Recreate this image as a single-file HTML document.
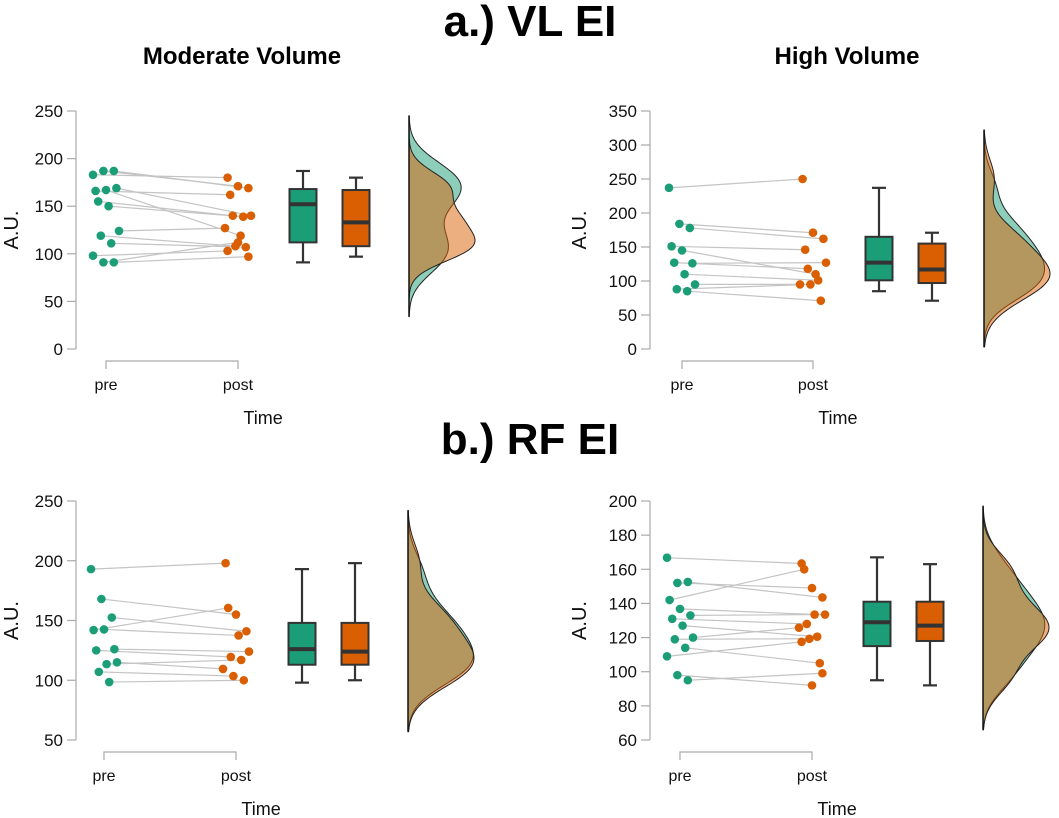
<!DOCTYPE html>
<html><head><meta charset="utf-8"><style>
body{margin:0;background:#fff;}
svg{display:block;font-family:"Liberation Sans",Arial,sans-serif;}
</style></head><body>
<svg id="fig" width="1059" height="818" viewBox="0 0 1059 818">
<text x="530" y="36" text-anchor="middle" font-size="44" font-weight="bold">a.) VL EI</text>
<text x="242" y="64" text-anchor="middle" font-size="24" font-weight="bold">Moderate Volume</text>
<text x="847" y="64" text-anchor="middle" font-size="24" font-weight="bold">High Volume</text>
<text x="530" y="454" text-anchor="middle" font-size="44" font-weight="bold">b.) RF EI</text>
</svg>
<script>
// Panel A: VL EI moderate volume
const preA=[183,187,187,166,167,169,155,150,124,119,111,98,91,91];
const postA=[180,171,169,162,119,140,140,139,127,108,107,103,112,97];
const boxPreA=[91,112,152,168,187];
const boxPostA=[97,108,133,167,180];
const ticksA=[0,50,100,150,200,250];
// Panel B: VL EI high volume
const preB=[237,184,178,151,145,126,127,110,95,88,85];
const postB=[250,171,162,146,110,127,118,101,95,95,71];
const boxPreB=[85,101,127,165,237];
const boxPostB=[71,97,117,155,171];
const ticksB=[0,50,100,150,200,250,300,350];
// Panel C: RF EI moderate volume
const preC=[193,168,152.5,142,142.5,126,125,113.5,115,107,98.5];
const postC=[198,155,141,160.5,137.5,124,119.5,117,109.5,103.5,100];
const boxPreC=[98,113,126,148,193];
const boxPostC=[100,113,124,148,198];
const ticksC=[50,100,150,200,250];
// Panel D: RF EI high volume
const preD=[166.8,152,152.6,142,136.8,133,131,127,120,119,114,109,98,95];
const postD=[163.4,149,143.5,160,133.5,133.5,128,120.5,125.8,119.3,105,117.5,92,99.1];
const boxPreD=[95,115,129,141,167];
const boxPostD=[92,118,127,141,163];
const ticksD=[60,80,100,120,140,160,180,200];

const NS="http://www.w3.org/2000/svg";
const svg=document.getElementById('fig');
const GREEN="#1b9e77",ORANGE="#d95f02";
function el(tag,attrs,parent){const e=document.createElementNS(NS,tag);for(const k in attrs)e.setAttribute(k,attrs[k]);(parent||svg).appendChild(e);return e;}
function jit(i,n){return ((i*37)%11-5)*2.6;}

function panel(cfg,pre,post,bpre,bpost,ticks,key){
  const g=el('g',{});
  
  
  const y=v=>cfg.y0-(v-cfg.vmin)/(cfg.vmax-cfg.vmin)*(cfg.y0-cfg.y1);
  const ax=el('line',{x1:cfg.ax,x2:cfg.ax,y1:y(ticks[0]),y2:y(ticks[ticks.length-1]),stroke:'#aaa','stroke-width':1.2},g);
  
  
  ticks.forEach(t=>{
    el('line',{x1:cfg.ax-9,x2:cfg.ax,y1:y(t),y2:y(t),stroke:'#aaa','stroke-width':1.2},g);
    const tx=el('text',{x:cfg.ax-13,y:y(t)+6,'text-anchor':'end','font-size':17,fill:'#111'},g);
    tx.textContent=t;
    
    
  });
  const yl=el('text',{x:0,y:0,transform:`translate(${cfg.ax-cfg.lo},${(y(ticks[0])+y(ticks[ticks.length-1]))/2}) rotate(-90)`,'text-anchor':'middle','font-size':20,fill:'#111'},g);
  yl.textContent='A.U.';
  
  
  el('path',{d:`M${cfg.pre},${cfg.bk+8}V${cfg.bk}H${cfg.post}V${cfg.bk+8}`,fill:'none',stroke:'#aaa','stroke-width':1.2},g);
  [['pre',cfg.pre],['post',cfg.post]].forEach(([s,x])=>{
    const t=el('text',{x:x,y:cfg.bk+29,'text-anchor':'middle','font-size':16,fill:'#111'},g);
    t.textContent=s;
    
    
  });
  const tt=el('text',{x:cfg.pre+(cfg.post-cfg.pre)*1.19,y:cfg.bk+63,'text-anchor':'middle','font-size':18,fill:'#111'},g);
  tt.textContent='Time';
  
  
  pre.forEach((v,i)=>{
    const ln=el('line',{x1:cfg.pre+jit(i),y1:y(v),x2:cfg.post+jit(i+3),y2:y(post[i]),stroke:'#c4c4c4','stroke-width':1.2},g);
    
    
  });
  pre.forEach((v,i)=>{
    const c=el('circle',{cx:cfg.pre+jit(i),cy:y(v),r:4.3,fill:GREEN},g);
    
    
  });
  post.forEach((v,i)=>{
    const c=el('circle',{cx:cfg.post+jit(i+3),cy:y(v),r:4.3,fill:ORANGE},g);
    
    
  });
  [[bpre,cfg.b1,GREEN,'pre'],[bpost,cfg.b2,ORANGE,'post']].forEach(([b,cx,col,n])=>{
    const w=27;
    el('line',{x1:cx,x2:cx,y1:y(b[0]),y2:y(b[4]),stroke:'#333','stroke-width':2.2},g);
    el('line',{x1:cx-7,x2:cx+7,y1:y(b[0]),y2:y(b[0]),stroke:'#333','stroke-width':2.2},g);
    el('line',{x1:cx-7,x2:cx+7,y1:y(b[4]),y2:y(b[4]),stroke:'#333','stroke-width':2.2},g);
    const r=el('rect',{x:cx-w/2,y:y(b[3]),width:w,height:y(b[1])-y(b[3]),fill:col,stroke:'#333','stroke-width':2},g);
    
    
    el('line',{x1:cx-w/2,x2:cx+w/2,y1:y(b[2]),y2:y(b[2]),stroke:'#333','stroke-width':4},g);
  });
  function bw(a){const n=a.length,m=a.reduce((s,v)=>s+v,0)/n;const sd=Math.sqrt(a.reduce((s,v)=>s+(v-m)*(v-m),0)/(n-1));const s=[...a].sort((p,q)=>p-q);const iqr=s[Math.floor(n*0.75)]-s[Math.floor(n*0.25)];return 0.9*Math.min(sd,iqr/1.34||sd)*Math.pow(n,-0.2);}
  function kde(a,v,h){let s=0;a.forEach(d=>{const z=(v-d)/h;s+=Math.exp(-0.5*z*z);});return s/(a.length*h);}
  const hp=bw(pre),hq=bw(post);
  const N=120,lo=cfg.dlo,hi=cfg.dhi;
  const grid=[];for(let i=0;i<=N;i++)grid.push(lo+(hi-lo)*i/N);
  const dp=grid.map(v=>kde(pre,v,hp)),dq=grid.map(v=>kde(post,v,hq));
  const mx=Math.max(...dp,...dq);
  [[dp,'rgba(27,158,119,0.5)','pre'],[dq,'rgba(217,95,2,0.5)','post']].forEach(([d,col,n])=>{
    let p=`M${cfg.dx},${y(grid[0])}`;
    grid.forEach((v,i)=>{p+=`L${(cfg.dx+d[i]/mx*cfg.dw).toFixed(2)},${y(v).toFixed(2)}`;});
    p+=`L${cfg.dx},${y(grid[N])}Z`;
    const pa=el('path',{d:p,fill:col,stroke:'#222','stroke-width':1},g);
    
    
  });
  el('line',{x1:cfg.dx,x2:cfg.dx,y1:y(lo),y2:y(hi),stroke:'#111','stroke-width':1.5},g);
}

panel({ax:76,lo:58,vmin:0,vmax:250,y0:349,y1:111,pre:106,post:238,bk:361,b1:303,b2:356,dx:409,dw:66,dlo:34,dhi:245},preA,postA,boxPreA,boxPostA,ticksA,'a-moderate');
panel({ax:650,lo:64,vmin:0,vmax:350,y0:349,y1:111,pre:682,post:813,bk:361,b1:879,b2:932,dx:984,dw:66,dlo:3,dhi:322},preB,postB,boxPreB,boxPostB,ticksB,'a-high');
panel({ax:76,lo:58,vmin:50,vmax:250,y0:740,y1:501,pre:104,post:236,bk:752,b1:302,b2:355,dx:408,dw:66,dlo:57,dhi:242},preC,postC,boxPreC,boxPostC,ticksC,'b-moderate');
panel({ax:650,lo:64,vmin:60,vmax:200,y0:740,y1:501,pre:680,post:812,bk:752,b1:877,b2:930,dx:983,dw:66,dlo:66,dhi:197},preD,postD,boxPreD,boxPostD,ticksD,'b-high');
</script>
</body></html>
